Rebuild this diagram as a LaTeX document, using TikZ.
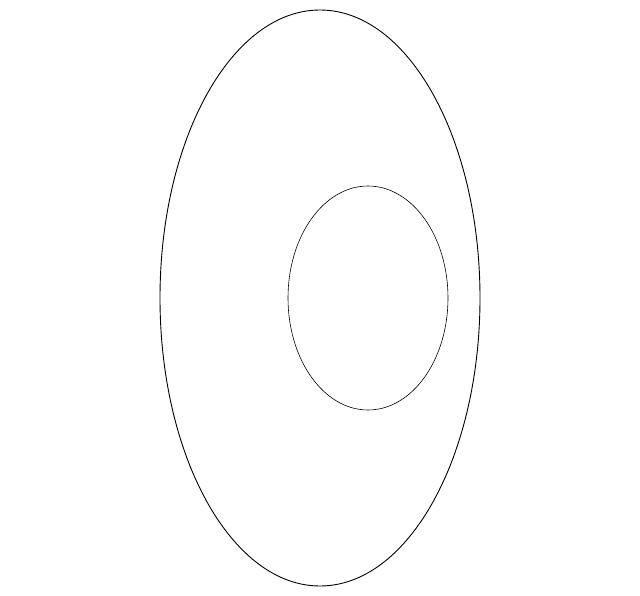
\documentclass[tikz,border=0pt]{standalone}
\begin{document}
\begin{tikzpicture}[x=1pt,y=-1pt,
  outer/.style={draw=black,line width=0.9pt},
  inner/.style={draw=black,line width=0.6pt}]
\useasboundingbox (0,0) rectangle (640,596);
\draw[outer] (320,298) ellipse [x radius=160, y radius=288];
\draw[inner] (368,298) ellipse [x radius=80, y radius=112];
\end{tikzpicture}
\end{document}
